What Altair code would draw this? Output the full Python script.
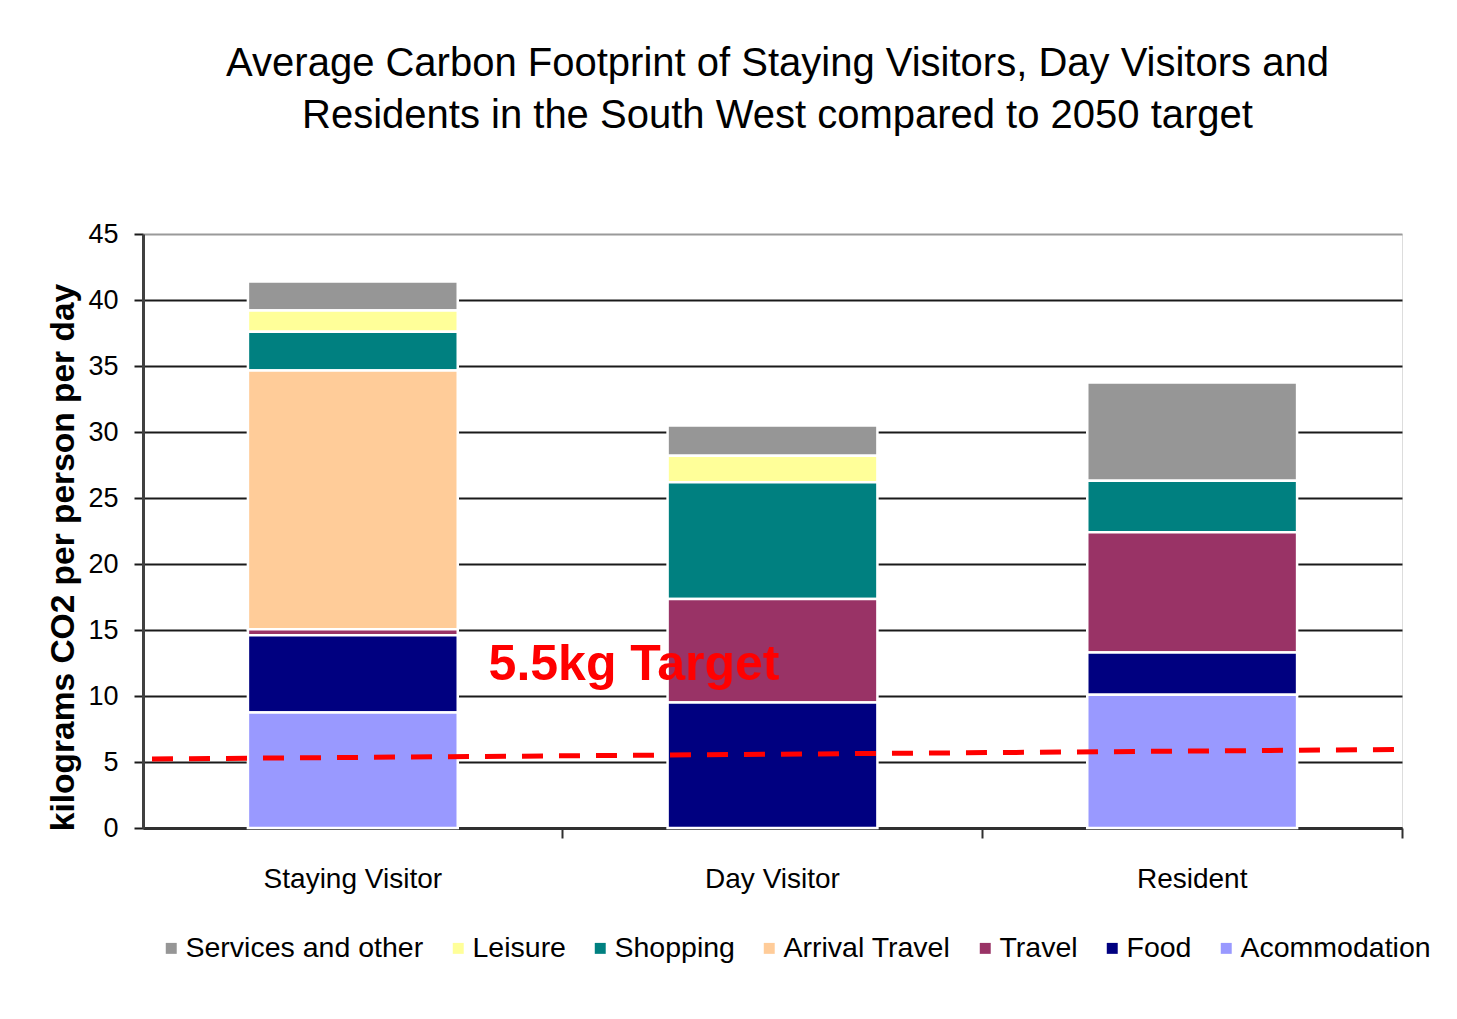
import altair as alt
import pandas as pd

# ---- data ----
categories = ["Staying Visitor", "Day Visitor", "Resident"]
components = ["Services and other", "Leisure", "Shopping", "Arrival Travel",
              "Travel", "Food", "Acommodation"]
colors = ["#969696", "#FFFF99", "#008080", "#FFCC99", "#993366", "#000080", "#9999FF"]

staying_visitor = [2.2, 1.6, 2.95, 19.6, 0.45, 5.85, 8.75]
day_visitor = [2.3, 2.0, 8.85, 0.0, 7.85, 9.5, 0.0]
resident = [7.45, 0.0, 3.9, 0.0, 9.1, 3.2, 10.1]

target_start = 5.23
target_end = 5.95
target_label = "5.5kg Target"
target_label_y = 11.2

title_lines = ["Average Carbon Footprint of Staying Visitors, Day Visitors and",
               "Residents in the South West compared to 2050 target"]
y_title = "kilograms CO2 per person per day"
y_ticks = [0, 5, 10, 15, 20, 25, 30, 35, 40, 45]

# ---- build table ----
rows = []
for cat, vals in zip(categories, [staying_visitor, day_visitor, resident]):
    for i, (comp, v) in enumerate(zip(components, vals)):
        if v > 0:
            rows.append({"category": cat, "component": comp, "value": v,
                         "stack_order": len(components) - i})
df = pd.DataFrame(rows)

SANS = "'Liberation Sans', Arial, sans-serif"

W, H = 1259, 594

bars = alt.Chart(df).mark_bar(stroke="white", strokeWidth=2.5).encode(
    x=alt.X("category:N", sort=categories,
            scale=alt.Scale(paddingInner=0.5, paddingOuter=0.25),
            axis=alt.Axis(title=None, labelAngle=0, labelFont=SANS, labelFontSize=28,
                          labelColor="black", labelPadding=27, labelLimit=0,
                          bandPosition=1.5,
                          domainColor="#303030", domainWidth=3,
                          tickColor="#303030", tickWidth=2, tickSize=10)),
    y=alt.Y("value:Q", stack="zero",
            scale=alt.Scale(domain=[0, 45], nice=False),
            axis=alt.Axis(title=y_title, values=y_ticks, grid=True,
                          gridColor=alt.condition("datum.value == 45",
                                                  alt.value("#9a9a9a"),
                                                  alt.value("#1a1a1a")),
                          gridWidth=2,
                          domainColor="#404040", domainWidth=3,
                          tickColor="#1a1a1a", tickWidth=2, tickSize=9,
                          labelFont=SANS, labelFontSize=27, labelColor="black",
                          labelPadding=16,
                          titleFont=SANS, titleFontSize=33.5, titleFontWeight="bold",
                          titleColor="black", titleAngle=270, titleX=-80, titleY=323,
                          titleBaseline="middle", titleAlign="center")),
    color=alt.Color("component:N", sort=components,
                    scale=alt.Scale(domain=components, range=colors),
                    legend=alt.Legend(title=None, orient="none", direction="horizontal",
                                      columns=7, legendX=14, legendY=700,
                                      symbolType="square", symbolSize=120,
                                      symbolStrokeWidth=0,
                                      labelFont=SANS, labelFontSize=28.5,
                                      labelColor="black", labelOffset=0,
                                      labelLimit=0, columnPadding=20)),
    order=alt.Order("stack_order:Q", sort="ascending"),
)

target_df = pd.DataFrame({"start": [target_start], "end": [target_end]})
target_line = alt.Chart(target_df).mark_rule(
    color="#FF0000", strokeWidth=5, strokeDash=[21, 16]
).encode(
    x=alt.value(9), x2=alt.value(W),
    y="start:Q", y2="end:Q",
)

label_df = pd.DataFrame({"text": [target_label], "y": [target_label_y]})
target_text = alt.Chart(label_df).mark_text(
    color="#FF0000", font=SANS, fontSize=50, fontWeight="bold",
    align="center", baseline="alphabetic"
).encode(
    x=alt.value(491), y="y:Q", text="text:N"
)

chart = alt.layer(bars, target_line, target_text).properties(
    width=W, height=H,
    title=alt.TitleParams(text=title_lines, font=SANS, fontSize=40,
                          fontWeight="normal", color="black", anchor="middle",
                          offset=84, lineHeight=52, dx=5),
    autosize=alt.AutoSizeParams(type="none"),
    padding={"left": 135, "top": 226, "right": 45, "bottom": 175},
).configure_view(
    fill="#C0C0C0", stroke="#808080", strokeWidth=2
).configure(background="white")

chart.save("out.html", embed_options={"renderer": "svg", "actions": False})
